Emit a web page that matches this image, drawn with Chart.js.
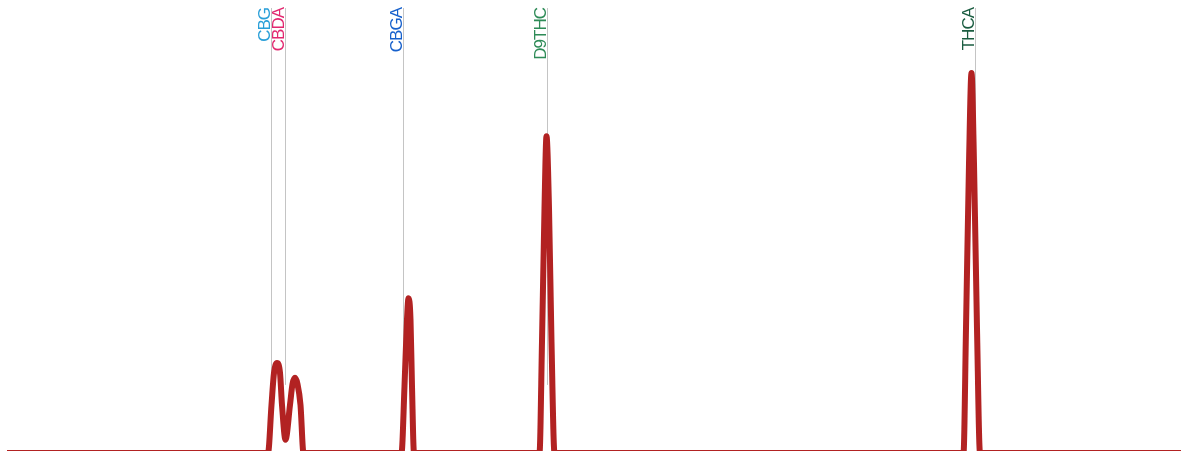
<!DOCTYPE html>
<html>
<head>
<meta charset="utf-8">
<script src="https://cdn.jsdelivr.net/npm/chart.js@4.4.1/dist/chart.umd.min.js"></script>
<style>
    html, body { margin: 0; padding: 0; background: #fff; overflow: hidden; }
    #wrap { width: 1181px; height: 453px; }
</style>
</head>
<body>
<div id="wrap"><canvas id="myChart" width="1181" height="453"></canvas></div>
<script>
// retention time (min) / signal (% of full scale)
var runStart = 0;
var runEnd = 11.74;

var cbgTime = [2.61, 2.645, 2.67, 2.70, 2.73, 2.75, 2.785];
var cbgSignal = [0, 10.8, 18, 20.2, 18, 10.8, 3];

var cbdaTime = [2.83, 2.855, 2.88, 2.905, 2.935, 2.965];
var cbdaSignal = [10.8, 15.5, 16.9, 15.5, 10.8, 0];

var cbgaTime = [3.945, 3.975, 4.00, 4.015, 4.035, 4.05, 4.07];
var cbgaSignal = [0, 15, 30, 34.8, 30, 15, 0];

var d9thcTime = [5.325, 5.35, 5.375, 5.395, 5.42, 5.445, 5.475];
var d9thcSignal = [0, 25, 55, 71.2, 55, 25, 0];

var thcaTime = [9.565, 9.59, 9.62, 9.645, 9.67, 9.70, 9.73];
var thcaSignal = [0, 28, 65, 85.4, 65, 28, 0];

// reference markers for the standards
var compoundNames = ['CBG', 'CBDA', 'CBGA', 'D9THC', 'THCA'];
var compoundTimes = [2.64, 2.78, 3.96, 5.40, 9.68];
var compoundColors = ['#2a9fd8', '#e2286f', '#1660cc', '#2e8b57', '#1a5c40'];
var markerBottom = 15.3;

// trace = baseline + all peaks
var trace = [{ x: runStart, y: 0 }];
[[cbgTime, cbgSignal], [cbdaTime, cbdaSignal], [cbgaTime, cbgaSignal],
 [d9thcTime, d9thcSignal], [thcaTime, thcaSignal]].forEach(function(p) {
    p[0].forEach(function(t, i) {
        trace.push({ x: t, y: p[1][i] });
    });
});
trace.push({ x: runEnd, y: 0 });

var markerPlugin = {
    id: 'markers',
    beforeDatasetsDraw: function(chart) {
        var ctx = chart.ctx;
        var xs = chart.scales.x;
        var ys = chart.scales.y;
        var top = chart.chartArea.top;
        var bottom = ys.getPixelForValue(markerBottom);
        ctx.save();
        compoundTimes.forEach(function(t, i) {
            var px = Math.round(xs.getPixelForValue(t)) + 0.5;
            ctx.strokeStyle = '#c4c4c4';
            ctx.lineWidth = 1;
            ctx.beginPath();
            ctx.moveTo(px, top);
            ctx.lineTo(px, bottom);
            ctx.stroke();

            // rotated label, reading upwards, ending at the top
            ctx.save();
            ctx.translate(px - 2, top);
            ctx.rotate(-Math.PI / 2);
            ctx.fillStyle = compoundColors[i];
            ctx.font = '17px "Liberation Sans", Arial, sans-serif';
            ctx.letterSpacing = '-1px';
            ctx.textAlign = 'right';
            ctx.textBaseline = 'alphabetic';
            ctx.fillText(compoundNames[i], 0, 0);
            ctx.restore();
        });
        ctx.restore();
    }
};

var ctx = document.getElementById('myChart').getContext('2d');
var chartInstance = new Chart(ctx, {
    type: 'line',
    data: {
        datasets: [{
            data: trace,
            borderColor: '#b22222',
            borderWidth: 6,
            borderJoinStyle: 'round',
            pointRadius: 0,
            fill: false,
            cubicInterpolationMode: 'monotone'
        }]
    },
    options: {
        responsive: false,
        animation: false,
        layout: { padding: { left: 7, top: 8, right: 0, bottom: 0 } },
        plugins: { legend: { display: false }, tooltip: { enabled: false } },
        scales: {
            x: { type: 'linear', min: runStart, max: runEnd, display: false },
            y: { min: 0, max: 100, display: false }
        }
    },
    plugins: [markerPlugin]
});
</script>
</body>
</html>
